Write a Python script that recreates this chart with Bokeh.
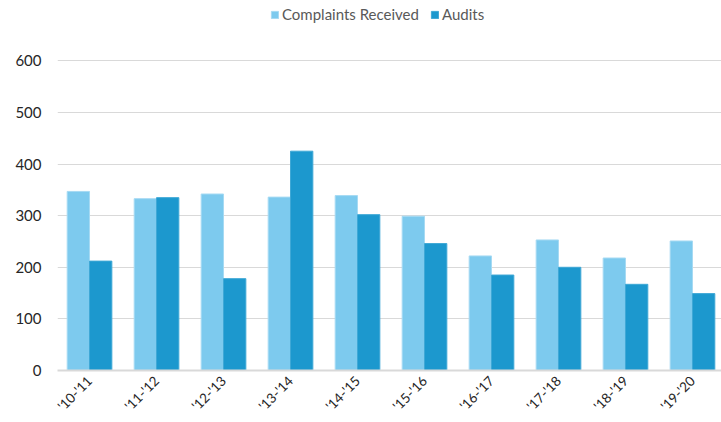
import numpy as np
from bokeh.plotting import figure
from bokeh.models import Range1d, FixedTicker, Legend, LegendItem, ColumnDataSource
from bokeh.transform import dodge
from bokeh.embed import file_html
from bokeh.resources import INLINE
from math import pi

categories = ["'10-'11", "'11-'12", "'12-'13", "'13-'14", "'14-'15",
              "'15-'16", "'16-'17", "'17-'18", "'18-'19", "'19-'20"]
complaints = [347, 333, 342, 336, 339, 299, 222, 253, 218, 251]
audits = [212, 335, 178, 425, 302, 246, 185, 200, 167, 149]
y_ticks = [0, 100, 200, 300, 400, 500, 600]

x_idx = list(range(len(categories)))
src = ColumnDataSource(dict(x=x_idx, c=complaints, a=audits))

p = figure(width=721, height=422, output_backend="svg", toolbar_location=None,
           x_range=Range1d(-0.478, 9.433), y_range=Range1d(0, 717),
           min_border_left=57, min_border_right=0, min_border_top=0, min_border_bottom=52)
p.outline_line_color = None
p.background_fill_color = "white"

r1 = p.vbar(x=dodge("x", -1/6, range=p.x_range), top="c", width=1/3, source=src,
            fill_color="#7DCAEE", line_color="#A6DAF3", line_width=1)
r2 = p.vbar(x=dodge("x", 1/6, range=p.x_range), top="a", width=1/3, source=src,
            fill_color="#1C98CE", line_color="#3FA8D6", line_width=1)

p.xaxis.ticker = FixedTicker(ticks=x_idx)
p.xaxis.major_label_overrides = {i: c for i, c in enumerate(categories)}
p.xaxis.major_label_orientation = pi / 4
p.xaxis.axis_line_color = "#D9D9D9"
p.xaxis.axis_line_width = 2
p.xaxis.major_tick_line_color = None
p.xaxis.minor_tick_line_color = None
p.xaxis.major_tick_out = 0
p.xaxis.major_tick_in = 0
p.xaxis.major_label_text_font = "Lato"
p.xaxis.major_label_text_font_size = "13.5px"
p.xaxis.major_label_text_color = "#262626"
p.xaxis.major_label_standoff = 8

p.yaxis.ticker = FixedTicker(ticks=y_ticks)
p.yaxis.axis_line_color = None
p.yaxis.major_tick_line_color = None
p.yaxis.minor_tick_line_color = None
p.yaxis.major_label_text_font = "Lato"
p.yaxis.major_label_text_font_size = "15px"
p.yaxis.major_label_text_color = "#262626"
p.yaxis.major_label_standoff = 10

p.xgrid.grid_line_color = None
p.ygrid.ticker = FixedTicker(ticks=y_ticks[1:])
p.ygrid.grid_line_color = "#D9D9D9"
p.ygrid.grid_line_width = 1

legend = Legend(items=[LegendItem(label="Complaints Received", renderers=[r1]),
                       LegendItem(label="Audits", renderers=[r2])],
                orientation="horizontal", location=(213, 347),
                glyph_width=9, glyph_height=9, label_height=12,
                label_standoff=3, spacing=11, padding=0, margin=0,
                border_line_color=None, background_fill_alpha=0,
                label_text_font="Lato", label_text_font_size="15px",
                label_text_color="#595959")
p.add_layout(legend, "center")

open("out.html", "w").write(file_html(p, INLINE))
